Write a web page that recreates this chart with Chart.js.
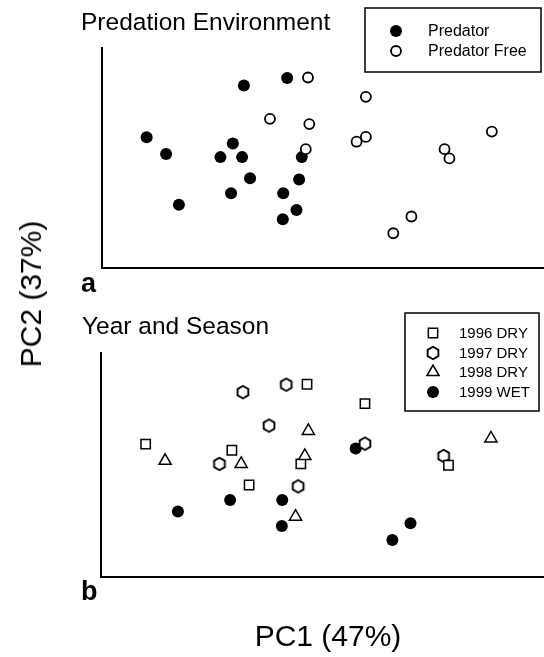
<!DOCTYPE html>
<html>
<head>
<meta charset="utf-8">
<script src="https://cdn.jsdelivr.net/npm/chart.js@4.4.1/dist/chart.umd.min.js"></script>
<style>
  body { margin: 0; background: #fff; }
  #wrap { position: relative; width: 544px; height: 657px; overflow: hidden;
          font-family: "Liberation Sans", Arial, Helvetica, sans-serif; color: #000; }
  canvas { position: absolute; left: 0; }
  .lbl { position: absolute; white-space: nowrap; line-height: 1; }
</style>
</head>
<body>
<div id="wrap">
  <canvas id="chartA" width="544" height="300" style="top:0"></canvas>
  <canvas id="chartB" width="544" height="357" style="top:300px"></canvas>
  <div class="lbl" style="left:81px; top:10px; font-size:24.5px;">Predation Environment</div>
  <div class="lbl" style="left:82px; top:314px; font-size:24.5px;">Year and Season</div>
  <div class="lbl" style="left:81px; top:270px; font-size:27px; font-weight:bold;">a</div>
  <div class="lbl" style="left:81px; top:578px; font-size:27px; font-weight:bold;">b</div>
  <div class="lbl" style="left:328px; top:621px; font-size:30px; transform:translateX(-50%);">PC1 (47%)</div>
  <div class="lbl" style="left:31px; top:294px; font-size:30px; transform:translate(-50%,-50%) rotate(-90deg);">PC2 (37%)</div>
</div>
<script>
// PCA scores, one entry per sample (same samples in both panels)
const pc1 = [-3.49, -3.05, -2.76, -1.29, -0.31, -1.54, -1.82, -1.33, -1.15, -1.58,
             -0.40, -0.04, 0.02, -0.10, -0.41, 0.16, -0.70, 0.19, 0.11, 1.47,
             1.26, 1.47, 3.25, 3.36, 4.32, 2.50, 2.09];
const pc2 = [0.27, -0.11, -1.26, 1.45, 1.62, 0.13, -0.18, -0.18, -0.66, -1.00,
             -1.00, -0.69, -0.18, -1.38, -1.59, 1.63, 0.69, 0.57, 0.00, 1.19,
             0.17, 0.28, 0.00, -0.21, 0.40, -1.53, -1.91];
const environment = ['Predator', 'Predator', 'Predator', 'Predator', 'Predator', 'Predator', 'Predator',
                     'Predator', 'Predator', 'Predator', 'Predator', 'Predator', 'Predator', 'Predator',
                     'Predator', 'Predator Free', 'Predator Free', 'Predator Free', 'Predator Free',
                     'Predator Free', 'Predator Free', 'Predator Free', 'Predator Free', 'Predator Free',
                     'Predator Free', 'Predator Free', 'Predator Free'];
const yearSeason = ['1996 DRY', '1998 DRY', '1999 WET', '1997 DRY', '1997 DRY', '1996 DRY', '1997 DRY',
                    '1998 DRY', '1996 DRY', '1999 WET', '1999 WET', '1997 DRY', '1996 DRY', '1998 DRY',
                    '1999 WET', '1996 DRY', '1997 DRY', '1998 DRY', '1998 DRY', '1996 DRY', '1999 WET',
                    '1997 DRY', '1997 DRY', '1996 DRY', '1998 DRY', '1999 WET', '1999 WET'];
const envGroups = ['Predator', 'Predator Free'];
const yearGroups = ['1996 DRY', '1997 DRY', '1998 DRY', '1999 WET'];

const FONT = '"Liberation Sans", Arial, Helvetica, sans-serif';

// hexagon marker (no built-in point style for it)
const hexagon = document.createElement('canvas');
hexagon.width = 16; hexagon.height = 16;
(function() {
  const c = hexagon.getContext('2d');
  c.beginPath();
  for (let i = 0; i < 6; i++) {
    const a = Math.PI / 2 + i * Math.PI / 3;
    const px = 8 + 6.2 * Math.cos(a), py = 8 - 6.2 * Math.sin(a);
    if (i === 0) c.moveTo(px, py); else c.lineTo(px, py);
  }
  c.closePath();
  c.fillStyle = '#fff';
  c.fill();
  c.lineWidth = 1.9;
  c.strokeStyle = '#000';
  c.stroke();
})();

function pointsFor(groupArr, name) {
  const out = [];
  groupArr.forEach((g, i) => { if (g === name) out.push({ x: pc1[i], y: pc2[i] }); });
  return out;
}

// draws the boxed legend from the chart's datasets
const boxLegend = {
  id: 'boxLegend',
  afterDraw(chart, args, opts) {
    const ctx = chart.ctx;
    ctx.save();
    ctx.lineWidth = 1.5;
    ctx.strokeStyle = '#000';
    const b = opts.box;
    ctx.strokeRect(b[0], b[1], b[2] - b[0], b[3] - b[1]);
    ctx.font = opts.fontSize + 'px ' + FONT;
    ctx.textBaseline = 'middle';
    chart.data.datasets.forEach((ds, i) => {
      const y = opts.rows[i];
      ctx.fillStyle = ds.backgroundColor;
      ctx.strokeStyle = ds.borderColor;
      ctx.lineWidth = ds.borderWidth;
      Chart.helpers.drawPoint(ctx, {
        pointStyle: ds.pointStyle, radius: ds.pointRadius,
        borderWidth: ds.borderWidth, rotation: 0
      }, opts.markerX, y);
      ctx.fillStyle = '#000';
      ctx.fillText(ds.label, opts.textX, y + 1);
    });
    ctx.restore();
  }
};

function noPad(s) {
  s.paddingLeft = 0; s.paddingRight = 0; s.paddingTop = 0; s.paddingBottom = 0;
}

function axes(xMin, xMax, yMin, yMax) {
  const common = {
    grid: { display: false, drawTicks: false },
    ticks: { display: false },
    border: { display: true, color: '#000', width: 2 }
  };
  return {
    x: Object.assign({ type: 'linear', min: xMin, max: xMax,
                       afterFit: s => { s.height = 0; noPad(s); } }, common),
    y: Object.assign({ type: 'linear', min: yMin, max: yMax,
                       afterFit: s => { s.width = 0; noPad(s); } }, common)
  };
}

const baseOptions = {
  responsive: false,
  animation: false,
  events: [],
  plugins: { legend: { display: false }, tooltip: { enabled: false } }
};

// panel a: predation environment
new Chart(document.getElementById('chartA'), {
  type: 'scatter',
  data: {
    datasets: [
      { label: envGroups[0], data: pointsFor(environment, envGroups[0]), order: 2,
        pointStyle: 'circle', pointRadius: 6, backgroundColor: '#000', borderColor: '#000', borderWidth: 0 },
      { label: envGroups[1], data: pointsFor(environment, envGroups[1]), order: 1,
        pointStyle: 'circle', pointRadius: 5, backgroundColor: '#fff', borderColor: '#000', borderWidth: 1.8 }
    ]
  },
  options: Object.assign({}, baseOptions, {
    layout: { autoPadding: false, padding: { left: 102, top: 48, right: 0, bottom: 32 } },
    scales: axes(-4.5, 5.5, -2.7, 2.3),
    plugins: Object.assign({}, baseOptions.plugins, {
      boxLegend: { box: [365, 8, 541, 72], markerX: 396, textX: 428, rows: [31, 51], fontSize: 16 }
    })
  }),
  plugins: [boxLegend]
});

// panel b: year and season
new Chart(document.getElementById('chartB'), {
  type: 'scatter',
  data: {
    datasets: [
      { label: yearGroups[0], data: pointsFor(yearSeason, yearGroups[0]), order: 2,
        pointStyle: 'rect', pointRadius: 6.6, backgroundColor: '#fff', borderColor: '#000', borderWidth: 1.5 },
      { label: yearGroups[1], data: pointsFor(yearSeason, yearGroups[1]), order: 3,
        pointStyle: hexagon, pointRadius: 6, backgroundColor: '#fff', borderColor: '#000', borderWidth: 1.5 },
      { label: yearGroups[2], data: pointsFor(yearSeason, yearGroups[2]), order: 1,
        pointStyle: 'triangle', pointRadius: 7, backgroundColor: '#fff', borderColor: '#000', borderWidth: 1.5 },
      { label: yearGroups[3], data: pointsFor(yearSeason, yearGroups[3]), order: 4,
        pointStyle: 'circle', pointRadius: 6, backgroundColor: '#000', borderColor: '#000', borderWidth: 0 }
    ]
  },
  options: Object.assign({}, baseOptions, {
    layout: { autoPadding: false, padding: { left: 101, top: 53, right: 0, bottom: 80 } },
    scales: axes(-4.5, 5.52, -2.75, 2.34),
    plugins: Object.assign({}, baseOptions.plugins, {
      boxLegend: { box: [405, 13, 539, 111], markerX: 433, textX: 459, rows: [33, 53, 72, 92], fontSize: 15 }
    })
  }),
  plugins: [boxLegend]
});
</script>
</body>
</html>
